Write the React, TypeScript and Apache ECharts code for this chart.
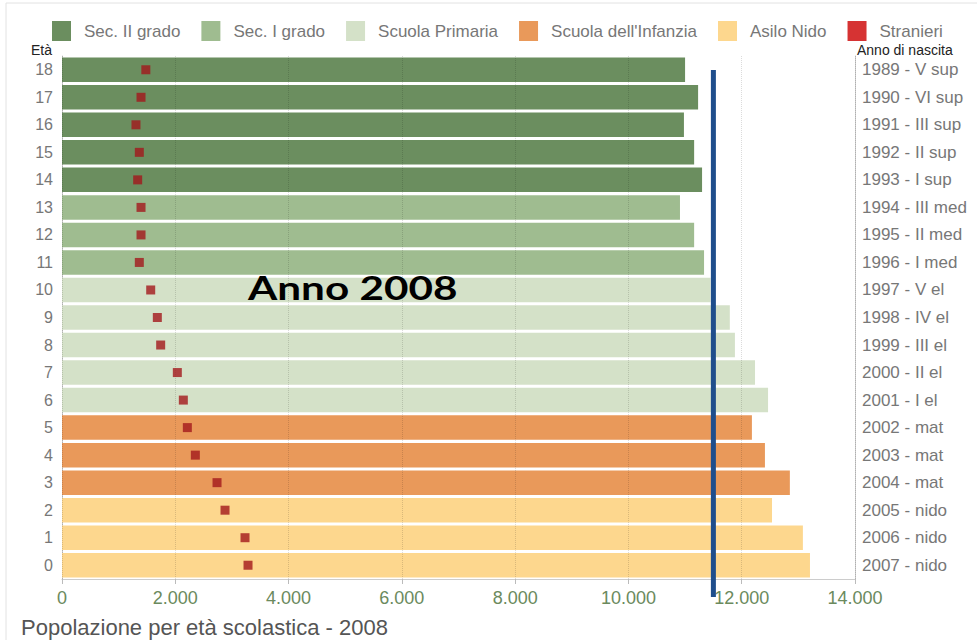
import React, { useEffect, useRef } from "react";
import * as echarts from "echarts";

const ages = ["0","1","2","3","4","5","6","7","8","9","10","11","12","13","14","15","16","17","18"];
const birthLabels = [
  "2007 - nido","2006 - nido","2005 - nido","2004 - mat","2003 - mat","2002 - mat",
  "2001 - I el","2000 - II el","1999 - III el","1998 - IV el","1997 - V el",
  "1996 - I med","1995 - II med","1994 - III med",
  "1993 - I sup","1992 - II sup","1991 - III sup","1990 - VI sup","1989 - V sup",
];
const population = [13205,13080,12535,12850,12410,12180,12465,12235,11880,11790,11450,11335,11160,10910,11300,11160,10980,11230,11000];
const stranieri = [3284,3231,2878,2737,2354,2213,2142,2036,1742,1683,1566,1365,1395,1395,1336,1365,1306,1395,1480];
// school group index for each age (0 = Sec. II grado ... 4 = Asilo Nido)
const ageGroup = [4,4,4,3,3,3,2,2,2,2,2,1,1,1,0,0,0,0,0];
const groupNames = ["Sec. II grado","Sec. I grado","Scuola Primaria","Scuola dell'Infanzia","Asilo Nido"];
const groupColors = ["#6b8e5f","#9fbc90","#d4e1c8","#e9995a","#fdd78e"];
const xTicks = { min: 0, max: 14000, interval: 2000 };
const markerYear = 11500;

const fmt = (v: number) => String(v).replace(/\B(?=(\d{3})+(?!\d))/g, ".");
const FONT = "Liberation Sans, Arial, sans-serif";

export default function App() {
  const ref = useRef<HTMLDivElement>(null);
  useEffect(() => {
    document.body.style.margin = "0";
    const chart = echarts.init(ref.current!, undefined, { renderer: "svg" });
    const barSeries = groupNames.map((name, gi) => ({
      name,
      type: "bar",
      barGap: "-100%",
      barCategoryGap: "11%",
      itemStyle: { color: groupColors[gi] },
      data: population.map((v, i) => (ageGroup[i] === gi ? v : "-")),
      z: 2,
    }));
    chart.setOption({
      animation: false,
      textStyle: { fontFamily: FONT },
      title: {
        text: "Popolazione per età scolastica - 2008",
        left: 21,
        top: 616,
        padding: 0,
        textStyle: { fontSize: 22, fontWeight: "normal", color: "#555", fontFamily: FONT, lineHeight: 22 },
      },
      legend: {
        left: 52,
        top: 21,
        padding: 0,
        itemWidth: 19,
        itemHeight: 20,
        itemGap: 21,
        icon: "rect",
        textStyle: { fontSize: 17, color: "#777", fontFamily: FONT, padding: [0, 0, 0, 8] },
        data: [
          ...groupNames,
          { name: "Stranieri", itemStyle: { color: "#cc0000" } },
        ],
      },
      grid: { left: 62, right: 122, top: 56, bottom: 61, containLabel: false },
      xAxis: {
        type: "value",
        ...xTicks,
        z: 5,
        axisLine: { show: true, lineStyle: { color: "#ccc" } },
        axisTick: { show: true, length: 5, lineStyle: { color: "#bbb" } },
        axisLabel: { fontSize: 18, color: "#6b8a5d", margin: 10, formatter: fmt, fontFamily: FONT },
        splitLine: { show: true, lineStyle: { color: "rgba(0,0,0,0.14)", type: "dotted" } },
      },
      yAxis: [
        {
          type: "category",
          data: ages,
          position: "left",
          name: "Età",
          nameLocation: "end",
          nameGap: -1,
          nameTextStyle: { align: "right", color: "#222", fontSize: 14, lineHeight: 14, padding: [0, 10, 0, 0], fontFamily: FONT },
          axisLine: { show: true, lineStyle: { color: "#ccc" } },
          axisTick: { show: false },
          axisLabel: { fontSize: 16, color: "#777", margin: 9, fontFamily: FONT },
        },
        {
          type: "category",
          data: birthLabels,
          position: "right",
          name: "Anno di nascita",
          nameLocation: "end",
          nameGap: -1,
          nameTextStyle: { align: "left", color: "#222", fontSize: 14, lineHeight: 14, padding: [0, 0, 0, 2], fontFamily: FONT },
          axisLine: { show: true, lineStyle: { color: "#ccc" } },
          axisTick: { show: false },
          axisLabel: { fontSize: 17, color: "#777", margin: 7, fontFamily: FONT },
        },
      ],
      series: [
        ...barSeries,
        {
          name: "Stranieri",
          type: "scatter",
          symbol: "rect",
          symbolSize: 9,
          itemStyle: { color: "#a3181c" },
          data: stranieri.map((v, i) => [v, ages[i]]),
          z: 6,
        },
      ],
    });
    const px = chart.convertToPixel({ xAxisIndex: 0 }, markerYear) as number;
    chart.setOption({
      graphic: [
        {
          type: "rect",
          shape: { x: 6, y: 3, width: 990, height: 660 },
          style: { fill: "none", stroke: "#e2e2e2", lineWidth: 1 },
          silent: true,
        },
        {
          type: "line",
          shape: { x1: px, y1: 70, x2: px, y2: 597 },
          style: { stroke: "#1f4e8c", lineWidth: 5 },
          z: 100,
        },
        {
          type: "text",
          x: 248,
          y: 271,
          scaleX: 1.28,
          style: {
            text: "Anno 2008",
            fontSize: 33,
            fontWeight: "bold",
            fontFamily: "Lato, Carlito, sans-serif",
            fill: "#000",
            textVerticalAlign: "top",
          },
          z: 100,
        },
      ],
    });
    return () => chart.dispose();
  }, []);
  return <div ref={ref} style={{ width: 977, height: 640 }} />;
}
